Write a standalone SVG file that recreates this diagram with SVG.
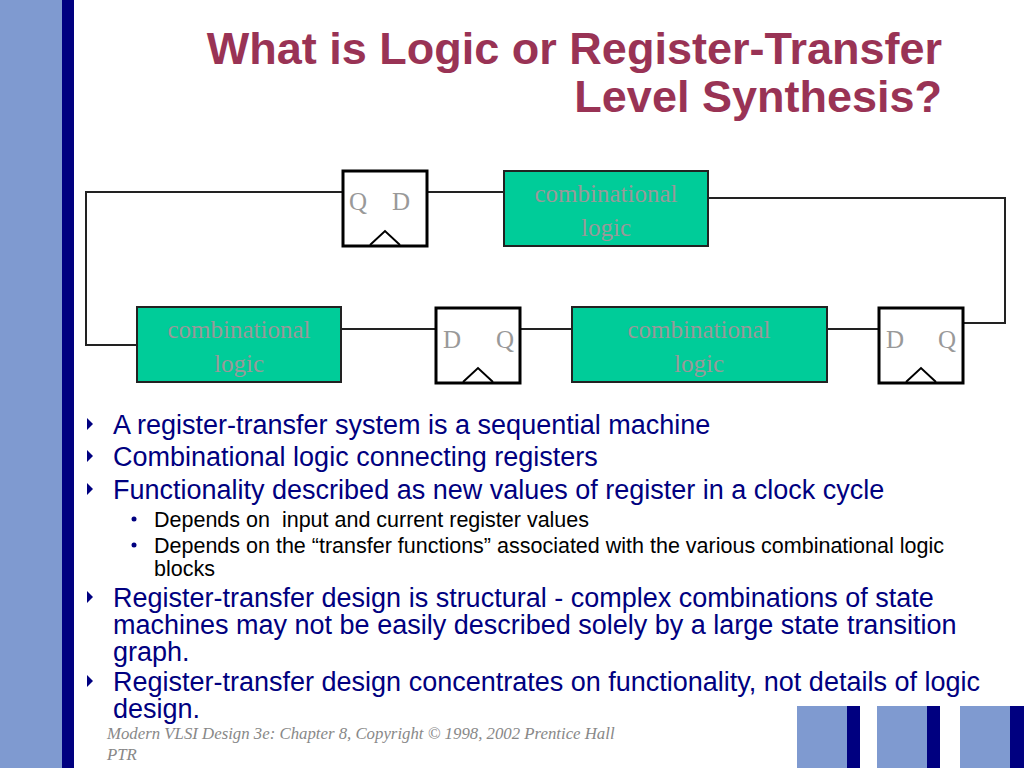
<svg xmlns="http://www.w3.org/2000/svg" width="1024" height="768" viewBox="0 0 1024 768">
<style>
.ff{fill:#fff;stroke:#000;stroke-width:3}
.cl{fill:#00cc99;stroke:#222;stroke-width:2}
.lt{font-family:"Liberation Serif",serif;font-size:25px;fill:#999;text-anchor:middle}
.w{fill:none;stroke:#222;stroke-width:2}
.ck{fill:none;stroke:#000;stroke-width:2}
.b{font-family:"Liberation Sans",Arial,sans-serif;font-size:27px;fill:#000080}
.s{font-family:"Liberation Sans",Arial,sans-serif;font-size:21.5px;fill:#000}
</style>
<rect width="1024" height="768" fill="#fff"/>
<rect x="0" y="0" width="62" height="768" fill="#7f9ad0"/>
<rect x="62" y="0" width="12" height="768" fill="#000080"/>
<g fill="#7f9ad0"><rect x="797" y="706" width="50" height="62"/><rect x="877" y="706" width="50" height="62"/><rect x="960" y="706" width="50" height="62"/></g>
<g fill="#000080"><rect x="847" y="706" width="13" height="62"/><rect x="927" y="706" width="13" height="62"/><rect x="1010" y="706" width="14" height="62"/></g>
<g font-family="Liberation Sans,Arial,sans-serif" font-weight="bold" font-size="45" fill="#993355" text-anchor="end">
<text x="942" y="64">What is Logic or Register-Transfer</text>
<text x="942" y="112">Level Synthesis?</text>
</g>
<g id="connectors">
<polyline class="w" points="343,192 86,192 86,345 137,345"/>
<line class="w" x1="427" y1="192" x2="504" y2="192"/>
<polyline class="w" points="708,198 1005,198 1005,323 963,323"/>
<line class="w" x1="341" y1="329" x2="436" y2="329"/>
<line class="w" x1="520" y1="329" x2="572" y2="329"/>
<line class="w" x1="827" y1="329" x2="879" y2="329"/>
</g>
<g id="ff1"><rect class="ff" x="343" y="171" width="84" height="75"/><polyline class="ck" points="370,245 385,231 400,245"/><text class="lt" x="358" y="210">Q</text><text class="lt" x="401" y="210">D</text></g>
<g id="cl1"><rect class="cl" x="504" y="171" width="204" height="75"/><text class="lt" x="606" y="202">combinational</text><text class="lt" x="606" y="236">logic</text></g>
<g id="cl2"><rect class="cl" x="137" y="307" width="204" height="75"/><text class="lt" x="239" y="338">combinational</text><text class="lt" x="239" y="372">logic</text></g>
<g id="ff2"><rect class="ff" x="436" y="308" width="84" height="75"/><polyline class="ck" points="463,382 478,368 493,382"/><text class="lt" x="452" y="348">D</text><text class="lt" x="505" y="348">Q</text></g>
<g id="cl3"><rect class="cl" x="572" y="307" width="255" height="75"/><text class="lt" x="699" y="338">combinational</text><text class="lt" x="699" y="372">logic</text></g>
<g id="ff3"><rect class="ff" x="879" y="308" width="84" height="75"/><polyline class="ck" points="906,382 921,368 936,382"/><text class="lt" x="895" y="348">D</text><text class="lt" x="947" y="348">Q</text></g>
<g fill="#000080">
<polygon points="87,418 93,424 87,430"/><polygon points="87,450 93,456 87,462"/><polygon points="87,483 93,489 87,495"/><polygon points="87,591 93,597 87,603"/><polygon points="87,675 93,681 87,687"/>
<circle cx="134" cy="519" r="2.5"/><circle cx="134" cy="545" r="2.5"/>
</g>
<text class="b" x="113" y="434">A register-transfer system is a sequential machine</text>
<text class="b" x="113" y="466">Combinational logic connecting registers</text>
<text class="b" x="113" y="499">Functionality described as new values of register in a clock cycle</text>
<text class="s" x="154" y="527" xml:space="preserve">Depends on  input and current register values</text>
<text class="s" x="154" y="553">Depends on the “transfer functions” associated with the various combinational logic</text>
<text class="s" x="154" y="576">blocks</text>
<text class="b" x="113" y="607">Register-transfer design is structural - complex combinations of state</text>
<text class="b" x="113" y="634">machines may not be easily described solely by a large state transition</text>
<text class="b" x="113" y="661">graph.</text>
<text class="b" x="113" y="691">Register-transfer design concentrates on functionality, not details of logic</text>
<text class="b" x="113" y="718">design.</text>
<g font-family="Liberation Serif,serif" font-style="italic" font-size="16.8" fill="#888">
<text x="107" y="739">Modern VLSI Design 3e: Chapter 8, Copyright © 1998, 2002 Prentice Hall</text>
<text x="107" y="760">PTR</text>
</g>
</svg>
